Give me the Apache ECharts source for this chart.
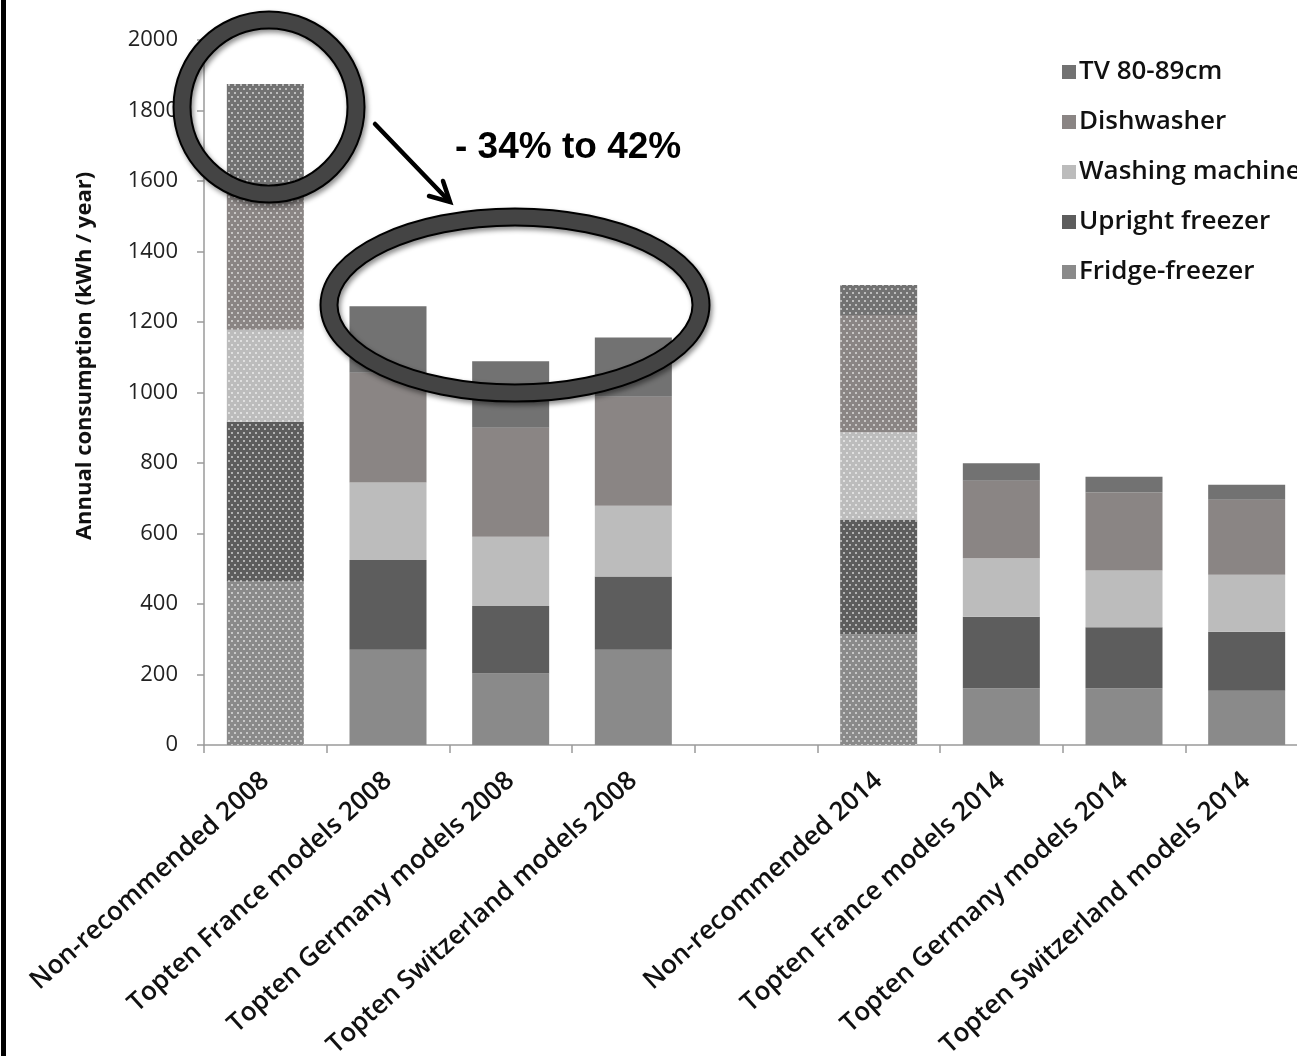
<!DOCTYPE html>
<html>
<head>
<meta charset="utf-8">
<script src="https://cdn.jsdelivr.net/npm/echarts@6/dist/echarts.min.js"></script>
<style>
html,body{margin:0;padding:0;background:#fff;}
#chart{width:1297px;height:1056px;}
</style>
</head>
<body>
<div id="chart"></div>
<script>
// ---- data ----
const categories = ['Non-recommended 2008','Topten France models 2008','Topten Germany models 2008','Topten Switzerland models 2008','','Non-recommended 2014','Topten France models 2014','Topten Germany models 2014','Topten Switzerland models 2014'];
const fridgeFreezer  = [465, 270, 203, 270, null, 314, 161, 161, 154];
const uprightFreezer = [452, 255, 191, 208, null, 324, 203, 173, 167];
const washingMachine = [261, 220, 197, 201, null, 249, 166, 161, 162];
const dishwasher     = [412, 311, 309, 309, null, 333, 220, 221, 213];
const tv             = [285, 189, 189, 168, null,  85,  49,  45,  42];
const seriesNames = ['Fridge-freezer','Upright freezer','Washing machine','Dishwasher','TV 80-89cm'];
const legendOrder = ['TV 80-89cm','Dishwasher','Washing machine','Upright freezer','Fridge-freezer'];
const yTicks = [0,200,400,600,800,1000,1200,1400,1600,1800,2000];
const annotationText = '- 34% to 42%';
const yAxisTitle = 'Annual consumption (kWh / year)';
const patternedCategories = ['Non-recommended 2008','Non-recommended 2014'];

// ---- styles ----
const colors = ['#8a8a8a','#5d5d5d','#bcbcbc','#8a8584','#727272'];
const dotDecal = {
  symbol: 'circle',
  symbolSize: 1,
  dashArrayX: [[2,4],[0,3,2,1]],
  dashArrayY: [2,2],
  color: 'rgba(255,255,255,0.7)',
  rotation: 0
};
const seriesData = [fridgeFreezer, uprightFreezer, washingMachine, dishwasher, tv];

function buildData(arr){
  return arr.map((v,i)=>{
    if (patternedCategories.indexOf(categories[i]) >= 0) {
      return {value: v, itemStyle: {decal: dotDecal}};
    }
    return v;
  });
}

const series = seriesNames.map((name, k) => ({
  name: name,
  type: 'bar',
  stack: 'total',
  barWidth: 77,
  itemStyle: {color: colors[k]},
  emphasis: {disabled: true},
  data: buildData(seriesData[k])
}));

const chart = echarts.init(document.getElementById('chart'), null, {renderer: 'canvas'});

chart.setOption({
  animation: false,
  backgroundColor: '#fff',
  grid: {left: 204, top: 40, width: 1104, height: 705, containLabel: false, outerBoundsMode: 'none'},
  legend: {
    data: legendOrder,
    orient: 'vertical',
    left: 1057,
    top: 54,
    itemWidth: 14,
    itemHeight: 14,
    itemGap: 24,
    icon: 'rect',
    selectedMode: false,
    textStyle: {fontFamily: 'Open Sans', fontSize: 26, fontWeight: 600, color: '#111', lineHeight: 26, padding: [0,0,0,-2]}
  },
  xAxis: {
    type: 'category',
    data: categories,
    axisLine: {show: true, lineStyle: {color: '#9a9a9a', width: 1.5}},
    axisTick: {show: true, length: 8, alignWithLabel: false, lineStyle: {color: '#9a9a9a', width: 1.5}},
    axisLabel: {
      interval: 0,
      rotate: 42,
      margin: 32,
      fontFamily: 'Open Sans',
      fontSize: 26,
      fontWeight: 600,
      color: '#111'
    }
  },
  yAxis: {
    type: 'value',
    min: yTicks[0],
    max: yTicks[yTicks.length-1],
    interval: yTicks[1]-yTicks[0],
    splitLine: {show: false},
    axisLine: {show: true, lineStyle: {color: '#9a9a9a', width: 1.5}},
    axisTick: {show: true, length: 7, lineStyle: {color: '#9a9a9a', width: 1.5}},
    axisLabel: {margin: 26, fontFamily: 'Open Sans', fontSize: 22, color: '#222', formatter: (v) => String(v)}
  },
  series: series,
  graphic: [
    {type: 'rect', shape: {x: 1, y: 0, width: 5, height: 1056}, style: {fill: '#000'}, silent: true},
    {
      type: 'text', x: 85, y: 356, rotation: Math.PI/2,
      style: {text: yAxisTitle, font: 'bold 22px "Open Sans"', fill: '#111', align: 'center', verticalAlign: 'middle'},
      silent: true
    },
    // ellipse 1
    {type: 'ellipse', shape: {cx: 269, cy: 107, rx: 87, ry: 87},
      style: {fill: 'none', stroke: '#000', lineWidth: 19, shadowBlur: 5, shadowColor: 'rgba(0,0,0,0.45)', shadowOffsetX: 2, shadowOffsetY: 3}, z: 100, silent: true},
    {type: 'ellipse', shape: {cx: 269, cy: 107, rx: 87, ry: 87},
      style: {fill: 'none', stroke: '#444', lineWidth: 15}, z: 101, silent: true},
    // ellipse 2
    {type: 'ellipse', shape: {cx: 515, cy: 305, rx: 186, ry: 88},
      style: {fill: 'none', stroke: '#000', lineWidth: 19, shadowBlur: 5, shadowColor: 'rgba(0,0,0,0.45)', shadowOffsetX: 2, shadowOffsetY: 3}, z: 100, silent: true},
    {type: 'ellipse', shape: {cx: 515, cy: 305, rx: 186, ry: 88},
      style: {fill: 'none', stroke: '#444', lineWidth: 15}, z: 101, silent: true},
    // arrow
    {type: 'line', shape: {x1: 375, y1: 124, x2: 449, y2: 201}, style: {stroke: '#000', lineWidth: 4.5, lineCap: 'round'}, z: 102, silent: true},
    {type: 'polyline', shape: {points: [[443,181],[450,202],[429,196]]}, style: {fill: 'none', stroke: '#000', lineWidth: 4.5, lineCap: 'round', lineJoin: 'miter'}, z: 102, silent: true},
    {
      type: 'text', x: 455, y: 148, z: 102,
      style: {text: annotationText, font: 'bold 37px "Liberation Sans"', fill: '#000', align: 'left', verticalAlign: 'middle'},
      silent: true
    }
  ]
});
</script>
</body>
</html>
